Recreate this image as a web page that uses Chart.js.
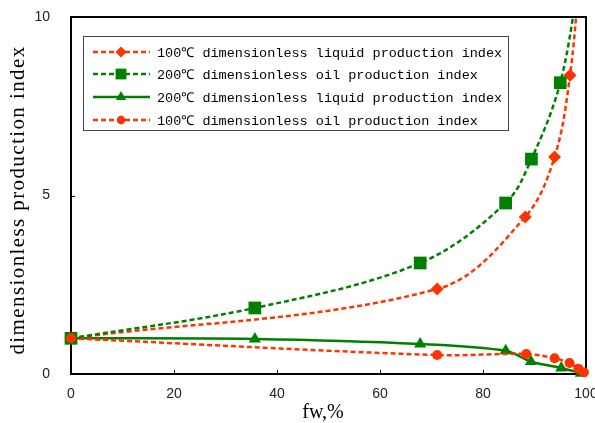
<!DOCTYPE html>
<html>
<head>
<meta charset="utf-8">
<script src="https://cdn.jsdelivr.net/npm/chart.js@4/dist/chart.umd.min.js"></script>
<style>
    html, body { margin: 0; padding: 0; background: #fff; }
    #chart { display: block; }
</style>
</head>
<body>
<canvas id="chart" width="595" height="423"></canvas>
<script>
"use strict";

// values (last point of the rising curves lies above the axis)
var fwLiquid100 = [0, 71.1, 88.2, 93.9, 96.9, 99.0];
var liquid100 = [1, 2.38, 4.40, 6.08, 8.37, 11.6];

var fwOil200 = [0, 35.7, 67.8, 84.4, 89.4, 95.0, 98.9];
var oil200 = [1, 1.85, 3.11, 4.79, 6.02, 8.16, 11.3];

var fwLiquid200 = [0, 35.7, 67.8, 84.4, 89.3, 95.2, 99.0];
var liquid200 = [1, 0.98, 0.84, 0.65, 0.35, 0.17, 0.02];

var fwOil100 = [0, 71.1, 88.4, 93.9, 96.8, 98.5, 99.6];
var oil100 = [1, 0.53, 0.56, 0.44, 0.31, 0.15, 0.05];

var seriesLabels = [
    '100℃ dimensionless liquid production index',
    '200℃ dimensionless oil production index',
    '200℃ dimensionless liquid production index',
    '100℃ dimensionless oil production index'
];

var xTicks = [0, 20, 40, 60, 80, 100];
var yTicks = [0, 5, 10];
var xTitle = 'fw,%';
var yTitle = 'dimensionless production index';

var RED = '#ff3300';
var GREEN = '#008000';

var toPoints = function (xs, ys) {
    var pts = [];
    for (var i = 0; i < xs.length; i++) {
        pts.push({ x: xs[i], y: ys[i] });
    }
    return pts;
};

var series = function (label, xs, ys, color, style, radius, dashed, order) {
    return {
        label: label,
        data: toPoints(xs, ys),
        showLine: true,
        borderColor: color,
        backgroundColor: color,
        borderWidth: 2.5,
        borderDash: dashed ? [5, 3] : [],
        tension: 0.35,
        pointStyle: style,
        pointRadius: radius,
        pointBorderWidth: 0,
        pointBackgroundColor: color,
        order: order,
        clip: { top: 0, left: false, right: false, bottom: false }
    };
};

// no extra room for the tick labels, the plot box is fixed
var fixBox = function (scale, size) {
    if (scale.isHorizontal()) {
        scale.height = size;
    } else {
        scale.width = size;
    }
    scale.paddingLeft = 0;
    scale.paddingRight = 0;
    scale.paddingTop = 0;
    scale.paddingBottom = 0;
};

// frame round the plot area, small ticks pointing inwards, axis titles
var framePlugin = {
    id: 'frame',
    beforeDatasetsDraw: function (chart) {
        var ctx = chart.ctx;
        var a = chart.chartArea;
        var xs = chart.scales.x;
        var ys = chart.scales.y;
        ctx.save();
        ctx.strokeStyle = '#000';
        ctx.lineWidth = 2;
        ctx.strokeRect(a.left, a.top, a.right - a.left, a.bottom - a.top);
        ctx.lineWidth = 1;
        ctx.beginPath();
        xTicks.forEach(function (v) {
            var px = Math.round(xs.getPixelForValue(v)) + 0.5;
            ctx.moveTo(px, a.bottom);
            ctx.lineTo(px, a.bottom - 4);
        });
        yTicks.forEach(function (v) {
            var py = Math.round(ys.getPixelForValue(v)) + 0.5;
            ctx.moveTo(a.left, py);
            ctx.lineTo(a.left + 4, py);
        });
        ctx.stroke();

        ctx.fillStyle = '#000';
        ctx.textAlign = 'center';
        ctx.textBaseline = 'middle';
        ctx.font = '20px "Liberation Serif", "Times New Roman", serif';
        ctx.fillText(xTitle, 323, 413);

        // y title, spaced out like the original
        ctx.translate(18, 200);
        ctx.rotate(-Math.PI / 2);
        ctx.font = '21px "Liberation Serif", "Times New Roman", serif';
        ctx.letterSpacing = '1.4px';
        ctx.fillText(yTitle, 0, 0);
        ctx.restore();
    }
};

// boxed legend in the upper left of the plot, in the reference's row order
var legendPlugin = {
    id: 'insideLegend',
    afterDraw: function (chart) {
        var ctx = chart.ctx;
        var box = { x: 83.5, y: 36.5, w: 425, h: 94 };
        var rows = [52, 74, 97, 120];
        ctx.save();
        ctx.fillStyle = '#fff';
        ctx.fillRect(box.x, box.y, box.w, box.h);
        ctx.strokeStyle = '#444';
        ctx.lineWidth = 1;
        ctx.strokeRect(box.x, box.y, box.w, box.h);
        for (var i = 0; i < 4; i++) {
            var ds = chart.data.datasets[i];
            var y = rows[i];
            ctx.strokeStyle = ds.borderColor;
            ctx.lineWidth = 2.5;
            ctx.setLineDash(ds.borderDash);
            ctx.beginPath();
            ctx.moveTo(93, y);
            ctx.lineTo(150, y);
            ctx.stroke();
            ctx.setLineDash([]);
            ctx.fillStyle = ds.pointBackgroundColor;
            Chart.helpers.drawPoint(ctx, {
                pointStyle: ds.pointStyle,
                radius: ds.pointRadius * 0.85,
                rotation: 0,
                borderWidth: 0
            }, 121, y);
            ctx.fillStyle = '#000';
            ctx.font = '13.5px "Liberation Mono", monospace';
            ctx.textBaseline = 'middle';
            ctx.textAlign = 'left';
            ctx.fillText(ds.label, 157, y + 1);
        }
        ctx.restore();
    }
};

var chart = new Chart(document.getElementById('chart'), {
    type: 'scatter',
    data: {
        datasets: [
            series(seriesLabels[0], fwLiquid100, liquid100, RED, 'rectRot', 6.5, true, 2),
            series(seriesLabels[1], fwOil200, oil200, GREEN, 'rect', 9, true, 1),
            series(seriesLabels[2], fwLiquid200, liquid200, GREEN, 'triangle', 7, false, 3),
            series(seriesLabels[3], fwOil100, oil100, RED, 'circle', 5, true, 0)
        ]
    },
    options: {
        responsive: false,
        animation: false,
        devicePixelRatio: 1,
        layout: { padding: { left: 0, top: 17, right: 7, bottom: 0 } },
        plugins: {
            legend: { display: false },
            tooltip: { enabled: false }
        },
        scales: {
            x: {
                type: 'linear',
                min: 0,
                max: 100,
                grid: { display: false, drawTicks: false },
                border: { display: false },
                ticks: {
                    stepSize: 20,
                    padding: 12,
                    color: '#222',
                    font: { family: '"Liberation Sans", Arial, sans-serif', size: 14 }
                },
                afterFit: function (scale) { fixBox(scale, 49); }
            },
            y: {
                type: 'linear',
                min: 0,
                max: 10,
                grid: { display: false, drawTicks: false },
                border: { display: false },
                ticks: {
                    stepSize: 5,
                    padding: 21,
                    color: '#222',
                    font: { family: '"Liberation Sans", Arial, sans-serif', size: 14 }
                },
                afterFit: function (scale) { fixBox(scale, 71); }
            }
        }
    },
    plugins: [framePlugin, legendPlugin]
});
</script>
</body>
</html>
